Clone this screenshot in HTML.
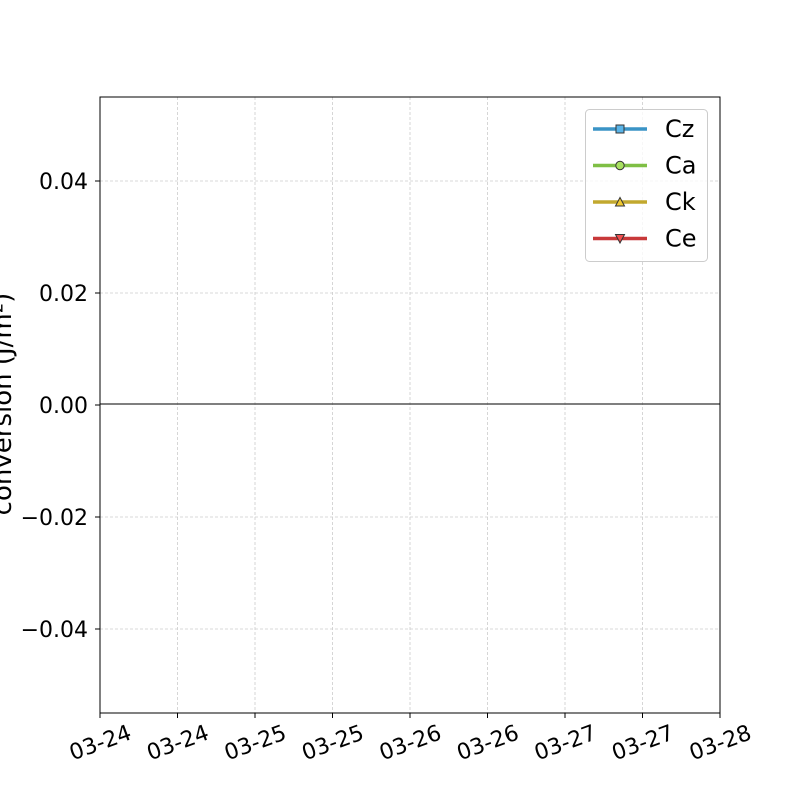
<!DOCTYPE html>
<html><head><meta charset="utf-8"><style>
body{margin:0;background:#fff;}
svg{display:block;font-family:"DejaVu Sans","Liberation Sans",sans-serif;}
</style></head><body>
<svg id="chart" width="800" height="800" viewBox="0 0 800 800">
<rect x="0" y="0" width="800" height="800" fill="#fff"/>
<g id="grid"></g>
<g id="xaxis"></g>
<g id="yaxis"></g>
<line x1="100" y1="404" x2="720" y2="404" stroke="#333" stroke-width="1.2"/>
<rect x="100" y="97" width="620" height="616" fill="none" stroke="#000" stroke-width="1"/>
<text x="3" y="412" font-size="26" text-anchor="middle" transform="rotate(-90 3 404)">conversion (J/m²)</text>
<g id="legend">
<rect x="585.5" y="109.5" width="122" height="152" rx="4" fill="#fff" fill-opacity="0.8" stroke="#ccc"/>
</g>
</svg>
<script>
const xTickLabels = ["03-24","03-24","03-25","03-25","03-26","03-26","03-27","03-27","03-28"];
const yTicks = [-0.04,-0.02,0,0.02,0.04];
const yTickLabels = ["\u22120.04","\u22120.02","0.00","0.02","0.04"];
const seriesNames = ["Cz","Ca","Ck","Ce"];
const seriesColors = ["#3a94c6","#7fbf45","#c2a82e","#c8393a"];
const markerFills = ["#5ab4e8","#a8e060","#f0c830","#f05050"];
const markerShapes = ["square","circle","triangle-up","triangle-down"];

const NS="http://www.w3.org/2000/svg";
const X0=100,X1=720,Y0=97,Y1=713,YMIN=-0.055,YMAX=0.055;
const xs=i=>X0+(X1-X0)*i/(xTickLabels.length-1);
const ys=v=>Y1-(v-YMIN)/(YMAX-YMIN)*(Y1-Y0);
function mk(tag,attrs,parent,text){const e=document.createElementNS(NS,tag);for(const k in attrs)e.setAttribute(k,attrs[k]);if(text!==undefined)e.textContent=text;parent.appendChild(e);return e;}
const grid=document.getElementById('grid'),xa=document.getElementById('xaxis'),ya=document.getElementById('yaxis'),lg=document.getElementById('legend');
xTickLabels.forEach((l,i)=>{
  const x=xs(i);
  const g=mk('line',{x1:x,y1:Y0,x2:x,y2:Y1,stroke:'#ccc','stroke-width':0.8,'stroke-dasharray':'3,2'},grid);
  
  
  const t=mk('line',{x1:x,y1:Y1,x2:x,y2:Y1+5,stroke:'#000'},xa);
  
  
  const tx=mk('text',{x:x,y:750,'font-size':22,'text-anchor':'middle',transform:`rotate(-20 ${x} 742)`},xa,l);
  
  
});
yTicks.forEach((v,i)=>{
  const y=ys(v);
  if(v!==0){const g=mk('line',{x1:X0,y1:y,x2:X1,y2:y,stroke:'#ccc','stroke-width':0.8,'stroke-dasharray':'3,2'},grid);
  
  }
  const t=mk('line',{x1:X0-5,y1:y,x2:X0,y2:y,stroke:'#000'},ya);
  
  
  const tx=mk('text',{x:88,y:y+8,'font-size':22,'text-anchor':'end'},ya,yTickLabels[i]);
  
  
});
seriesNames.forEach((n,i)=>{
  const y=129+i*36.5,cx=620;
  const g=mk('g',{},lg);
  
  
  mk('line',{x1:593,y1:y,x2:647,y2:y,stroke:seriesColors[i],'stroke-width':3.5},g);
  const s=markerShapes[i],st={fill:markerFills[i],stroke:'#333','stroke-width':1};
  if(s==='square')mk('rect',Object.assign({x:cx-4,y:y-4,width:8,height:8},st),g);
  else if(s==='circle')mk('circle',Object.assign({cx:cx,cy:y,r:4.2},st),g);
  else if(s==='triangle-up')mk('polygon',Object.assign({points:`${cx},${y-4.5} ${cx-4.5},${y+4} ${cx+4.5},${y+4}`},st),g);
  else mk('polygon',Object.assign({points:`${cx},${y+4.5} ${cx-4.5},${y-4} ${cx+4.5},${y-4}`},st),g);
  mk('text',{x:665,y:y+8,'font-size':24},g,n);
});
</script>
</body></html>
